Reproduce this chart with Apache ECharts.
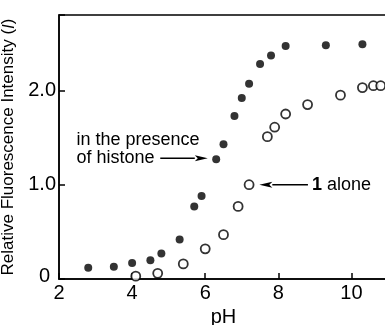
<!DOCTYPE html>
<html>
<head>
<meta charset="utf-8">
<script src="https://cdn.jsdelivr.net/npm/echarts@6/dist/echarts.min.js"></script>
<style>
  html, body { margin: 0; padding: 0; background: #fff; }
  #chart { width: 385px; height: 325px; }
</style>
</head>
<body>
<div id="chart"></div>
<script>
// 组蛋白存在时 (filled) / 1 alone (open)
const histonePH = [2.8, 3.5, 4.0, 4.5, 4.8, 5.3, 5.7, 5.9, 6.3, 6.5, 6.8, 7.0, 7.2, 7.5, 7.8, 8.2, 9.3, 10.3]
const histoneI = [0.12, 0.13, 0.17, 0.20, 0.27, 0.42, 0.77, 0.88, 1.27, 1.43, 1.73, 1.92, 2.07, 2.28, 2.37, 2.47, 2.48, 2.49]
const alonePH = [4.1, 4.7, 5.4, 6.0, 6.5, 6.9, 7.2, 7.7, 7.9, 8.2, 8.8, 9.7, 10.3, 10.6, 10.8]
const aloneI = [0.03, 0.06, 0.16, 0.32, 0.47, 0.77, 1.00, 1.51, 1.61, 1.75, 1.85, 1.95, 2.03, 2.05, 2.05]

// annotations, in data coordinates
const histoneArrow = [[4.77, 1.28], [6.07, 1.28]]
const aloneArrow = [[8.81, 1.0], [7.48, 1.0]]
const histoneText = [[2.48, 1.475, 'in the presence'], [2.48, 1.28, 'of histone']]
const aloneText = [8.92, 1.0]

const font = 'Liberation Sans, Arial, Helvetica, sans-serif'

let myChart = echarts.init(document.getElementById('chart'))

const option = {
  animation: false,
  grid: {
    left: 59,
    top: 15,
    right: -3,
    bottom: 46,
    outerBoundsMode: 'none',
    containLabel: false,
    show: true,
    borderColor: '#000',
    borderWidth: 1.5
  },
  xAxis: {
    type: 'value',
    min: 2,
    max: 11,
    interval: 2,
    name: 'pH',
    nameLocation: 'middle',
    nameGap: 25,
    nameTextStyle: {color: '#000', fontSize: 20, fontFamily: font},
    axisLine: {lineStyle: {color: '#000', width: 1.5}},
    axisTick: {inside: true, length: 6, lineStyle: {color: '#000', width: 1.5}},
    splitLine: {show: false},
    axisLabel: {
      color: '#000',
      fontSize: 20,
      fontFamily: font,
      margin: 4,
      formatter: (v) => (v % 2 === 0 ? String(v) : '')
    }
  },
  yAxis: {
    type: 'value',
    min: 0,
    max: 2.8,
    interval: 1,
    name: 'Relative Fluorescence Intensity ({i|I})',
    nameLocation: 'middle',
    nameRotate: 90,
    nameGap: 33,
    nameTextStyle: {
      color: '#000', fontSize: 17, fontFamily: font,
      rich: {i: {fontStyle: 'italic', fontSize: 17, fontFamily: font, color: '#000'}}
    },
    axisLine: {show: true, lineStyle: {color: '#000', width: 1.5}},
    axisTick: {show: true, inside: true, length: 6, lineStyle: {color: '#000', width: 1.5}},
    splitLine: {show: false},
    axisLabel: {
      color: '#000',
      fontSize: 20,
      fontFamily: font,
      margin: 3,
      formatter: (v) => {
        if (v === 0) return '{z|0}'
        return Number.isInteger(v) ? v.toFixed(1) : ''
      },
      rich: {z: {fontSize: 20, fontFamily: font, color: '#000', padding: [0, 6, 5, 0]}}
    }
  },
  series: [
    {
      name: 'in the presence of histone',
      type: 'scatter',
      symbol: 'circle',
      symbolSize: 8,
      itemStyle: {color: '#000'},
      data: histonePH.map((x, i) => [x, histoneI[i]])
    },
    {
      name: '1 alone',
      type: 'scatter',
      symbol: 'circle',
      symbolSize: 9,
      itemStyle: {color: '#fff', borderColor: '#000', borderWidth: 1.8},
      data: alonePH.map((x, i) => [x, aloneI[i]])
    }
  ]
}

myChart.setOption(option)

const toPx = (p) => myChart.convertToPixel({gridIndex: 0}, p)

const arrow = (pts) => {
  const a = toPx(pts[0])
  const b = toPx(pts[1])
  const dir = b[0] > a[0] ? 1 : -1
  const headLen = 13
  const base = b[0] - dir * headLen
  return [
    {type: 'line', shape: {x1: a[0], y1: a[1], x2: base, y2: b[1]}, style: {stroke: '#000', lineWidth: 1.5}},
    {type: 'polygon', shape: {points: [[b[0], b[1]], [base, b[1] - 3], [base + dir * 3, b[1]], [base, b[1] + 3]]}, style: {fill: '#000'}}
  ]
}

const graphic = [
  ...arrow(histoneArrow),
  ...arrow(aloneArrow),
  ...histoneText.map(t => {
    const p = toPx([t[0], t[1]])
    return {
      type: 'text', x: p[0], y: p[1],
      style: {text: t[2], fill: '#000', font: '18px ' + font, verticalAlign: 'middle', align: 'left'}
    }
  }),
  (() => {
    const p = toPx(aloneText)
    return {
      type: 'text', x: p[0], y: p[1],
      style: {
        text: '{b|1} alone', fill: '#000', font: '18px ' + font, verticalAlign: 'middle', align: 'left',
        rich: {b: {fontWeight: 'bold', fontSize: 18, fontFamily: font, fill: '#000'}}
      }
    }
  })()
]

myChart.setOption({graphic})
</script>
</body>
</html>
